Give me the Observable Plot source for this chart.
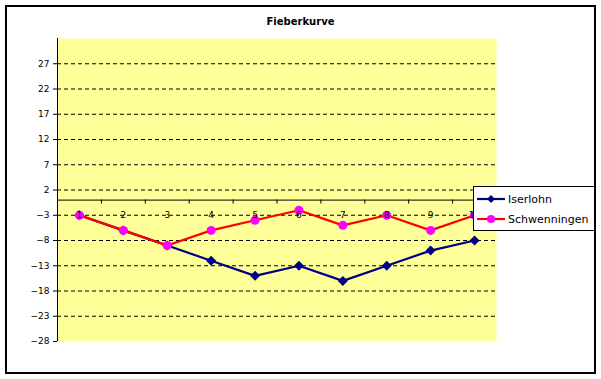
<!DOCTYPE html>
<html>
<head>
<meta charset="utf-8">
<script src="https://cdn.jsdelivr.net/npm/d3@7"></script>
<script src="https://cdn.jsdelivr.net/npm/@observablehq/plot@0.6"></script>
<style>
  html, body { margin: 0; padding: 0; background: #fff; }
  #wrap { position: relative; width: 601px; height: 379px; overflow: hidden; font-family: "DejaVu Sans", sans-serif; }
  #border { position: absolute; left: 5px; top: 5px; width: 587px; height: 365px; border: 2px solid #000; box-sizing: content-box; pointer-events: none; }
  #title { position: absolute; left: 0; width: 601px; top: 16px; text-align: center; font-family: "DejaVu Sans", sans-serif; font-weight: bold; font-size: 10px; color: #000; }
  #legend { position: absolute; left: 473px; top: 186px; width: 121px; height: 43px; background: #fff; border: 1px solid #000; }
  #legend .row { position: absolute; left: 0; height: 20px; display: flex; align-items: center; font-family: "DejaVu Sans", sans-serif; font-size: 11px; color: #000; white-space: nowrap; }
  #legend svg { display: block; margin-left: 3px; margin-right: 3px; }
  #chart svg { position: absolute; left: 0; top: 0; }
</style>
</head>
<body>
<div id="wrap">
  <div id="chart"></div>
  <div id="title">Fieberkurve</div>
  <div id="legend"></div>
  <div id="border"></div>
</div>
<script>
const categories = [1, 2, 3, 4, 5, 6, 7, 8, 9, 10];
const iserlohn = [-3, -6, -9, -12, -15, -13, -16, -13, -10, -8];
const schwenningen = [-3, -6, -9, -6, -4, -2, -5, -3, -6, -3];
const yTicks = [-28, -23, -18, -13, -8, -3, 2, 7, 12, 17, 22, 27];
const seriesNames = ["Iserlohn", "Schwenningen"];
const seriesColors = {Iserlohn: "#000080", Schwenningen: "#ff0000"};
const markerColors = {Iserlohn: "#000080", Schwenningen: "#ff00ff"};

const gridTicks = yTicks.filter(t => t > -28);
const xBounds = [0.5, ...categories.map(c => c + 0.5)];
const dataI = categories.map((c, i) => ({x: c, y: iserlohn[i], s: "Iserlohn"}));
const dataS = categories.map((c, i) => ({x: c, y: schwenningen[i], s: "Schwenningen"}));

const squareDiamond = {
  draw(ctx, size) {
    const h = Math.sqrt(size / 2);
    ctx.moveTo(0, -h); ctx.lineTo(h, 0); ctx.lineTo(0, h); ctx.lineTo(-h, 0); ctx.closePath();
  }
};

const chart = Plot.plot({
  width: 601,
  height: 379,
  marginLeft: 57,
  marginRight: 105,
  marginTop: 38,
  marginBottom: 38,
  style: {fontFamily: "DejaVu Sans, sans-serif", fontSize: "9px", background: "transparent", color: "#000"},
  x: {type: "linear", domain: [0.5, 10.5], axis: null},
  y: {type: "linear", domain: [-28, 32], axis: null},
  marks: [
    Plot.frame({fill: "#ffff99", stroke: "none"}),
    Plot.ruleY(gridTicks, {stroke: "#000", strokeWidth: 1, strokeDasharray: "4,3"}),
    Plot.ruleX([0.5], {stroke: "#000", strokeWidth: 1}),
    Plot.axisY(yTicks, {label: null, tickSize: 4, tickPadding: 4, stroke: "#000", fill: "#000", fontSize: 9}),
    Plot.ruleY([0], {stroke: "#000", strokeWidth: 1}),
    Plot.ruleX(xBounds, {y1: 0, y2: 0, insetBottom: -4, stroke: "#000"}),
    Plot.line(dataI, {x: "x", y: "y", stroke: seriesColors.Iserlohn, strokeWidth: 2.2}),
    Plot.dot(dataI, {x: "x", y: "y", symbol: squareDiamond, r: 4, fill: markerColors.Iserlohn, stroke: "none"}),
    Plot.line(dataS, {x: "x", y: "y", stroke: seriesColors.Schwenningen, strokeWidth: 2.2}),
    Plot.dot(dataS, {x: "x", y: "y", symbol: "circle", r: 4.5, fill: markerColors.Schwenningen, stroke: "none"}),
    Plot.text(categories, {x: d => d, y: 0, text: d => String(d), dy: 15, fontSize: 9, fill: "#000"})
  ]
});
document.getElementById("chart").appendChild(chart);

const legend = document.getElementById("legend");
seriesNames.forEach((name, i) => {
  const row = document.createElement("div");
  row.className = "row";
  row.style.top = (2 + i * 20) + "px";
  const ns = "http://www.w3.org/2000/svg";
  const svg = document.createElementNS(ns, "svg");
  svg.setAttribute("width", 28);
  svg.setAttribute("height", 12);
  const line = document.createElementNS(ns, "line");
  line.setAttribute("x1", 0); line.setAttribute("x2", 28);
  line.setAttribute("y1", 6); line.setAttribute("y2", 6);
  line.setAttribute("stroke", seriesColors[name]);
  line.setAttribute("stroke-width", 2.2);
  svg.appendChild(line);
  if (name === "Iserlohn") {
    const p = document.createElementNS(ns, "path");
    p.setAttribute("d", "M14,2 L18,6 L14,10 L10,6 Z");
    p.setAttribute("fill", markerColors[name]);
    svg.appendChild(p);
  } else {
    const c = document.createElementNS(ns, "circle");
    c.setAttribute("cx", 14); c.setAttribute("cy", 6); c.setAttribute("r", 4);
    c.setAttribute("fill", markerColors[name]);
    svg.appendChild(c);
  }
  row.appendChild(svg);
  const t = document.createElement("span");
  t.textContent = name;
  row.appendChild(t);
  legend.appendChild(row);
});
</script>
</body>
</html>
